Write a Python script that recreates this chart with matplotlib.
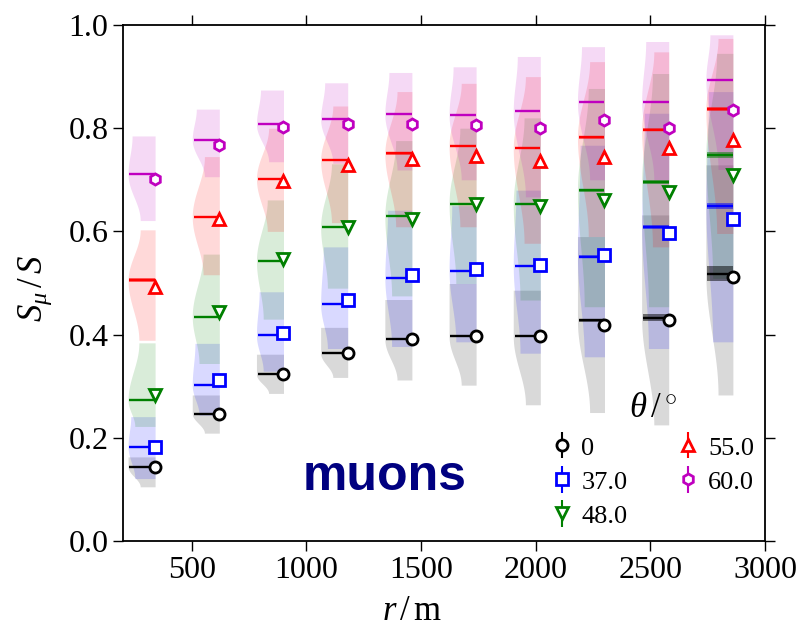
import numpy as np
import matplotlib
matplotlib.use("Agg")
import matplotlib.pyplot as plt

plt.rcParams['font.family'] = ['Liberation Serif', 'DejaVu Serif']
plt.rcParams['mathtext.fontset'] = 'custom'
plt.rcParams['mathtext.rm'] = 'Liberation Serif'
plt.rcParams['mathtext.it'] = 'Liberation Serif:italic'
plt.rcParams['mathtext.bf'] = 'Liberation Serif:bold'

# radial bins (m)
r = [340, 620, 900, 1180, 1460, 1740, 2020, 2300, 2580, 2860]
angles = ["0", "37.0", "48.0", "55.0", "60.0"]
colors = ['k', 'b', 'g', 'r', 'm']
markers = ['o', 's', 'v', '^', 'h']

# mean muon fraction per zenith angle (markers)
mean_0 = [0.144, 0.247, 0.323, 0.364, 0.391, 0.397, 0.397, 0.419, 0.428, 0.512]
mean_37 = [0.182, 0.312, 0.404, 0.467, 0.515, 0.528, 0.535, 0.554, 0.596, 0.625]
mean_48 = [0.282, 0.443, 0.546, 0.609, 0.625, 0.653, 0.649, 0.661, 0.676, 0.709]
mean_55 = [0.493, 0.624, 0.698, 0.729, 0.740, 0.746, 0.737, 0.744, 0.761, 0.777]
mean_60 = [0.701, 0.767, 0.802, 0.809, 0.809, 0.806, 0.801, 0.816, 0.801, 0.835]

# median muon fraction (horizontal lines)
med_0 = [0.144, 0.247, 0.323, 0.364, 0.391, 0.397, 0.397, 0.428, 0.433, 0.518]
med_37 = [0.183, 0.302, 0.399, 0.459, 0.510, 0.524, 0.533, 0.551, 0.609, 0.650]
med_48 = [0.273, 0.435, 0.543, 0.608, 0.629, 0.654, 0.653, 0.680, 0.696, 0.748]
med_55 = [0.505, 0.628, 0.702, 0.738, 0.751, 0.766, 0.761, 0.782, 0.797, 0.837]
med_60 = [0.711, 0.778, 0.808, 0.817, 0.827, 0.826, 0.833, 0.851, 0.851, 0.893]

# uncertainty on the median
med_err_0 = [0.002, 0.002, 0.002, 0.002, 0.002, 0.002, 0.002, 0.003, 0.006, 0.015]
med_err_37 = [0.002, 0.002, 0.002, 0.002, 0.002, 0.002, 0.002, 0.003, 0.004, 0.006]
med_err_48 = [0.002, 0.002, 0.002, 0.002, 0.002, 0.002, 0.002, 0.003, 0.004, 0.006]
med_err_55 = [0.004, 0.002, 0.002, 0.002, 0.002, 0.002, 0.002, 0.002, 0.003, 0.004]
med_err_60 = [0.002, 0.002, 0.002, 0.002, 0.002, 0.002, 0.002, 0.002, 0.002, 0.002]

# range of each distribution
lo_0 = [0.105, 0.209, 0.286, 0.317, 0.312, 0.302, 0.264, 0.249, 0.225, 0.283]
hi_0 = [0.163, 0.283, 0.362, 0.414, 0.468, 0.499, 0.486, 0.590, 0.632, 0.729]
lo_37 = [0.121, 0.244, 0.329, 0.373, 0.377, 0.386, 0.364, 0.357, 0.373, 0.386]
hi_37 = [0.241, 0.383, 0.483, 0.570, 0.641, 0.650, 0.680, 0.767, 0.829, 0.871]
lo_48 = [0.222, 0.344, 0.430, 0.490, 0.475, 0.499, 0.467, 0.454, 0.454, 0.509]
hi_48 = [0.384, 0.556, 0.661, 0.731, 0.776, 0.800, 0.820, 0.877, 0.906, 0.945]
lo_55 = [0.389, 0.516, 0.600, 0.617, 0.609, 0.609, 0.577, 0.590, 0.570, 0.596]
hi_55 = [0.603, 0.745, 0.800, 0.843, 0.871, 0.887, 0.900, 0.929, 0.948, 0.974]
lo_60 = [0.621, 0.706, 0.735, 0.732, 0.719, 0.700, 0.667, 0.700, 0.700, 0.720]
hi_60 = [0.785, 0.837, 0.874, 0.888, 0.908, 0.919, 0.939, 0.958, 0.968, 0.981]

# relative width of each distribution at its lower / upper end
taper_lo = [0.55, 0.75, 0.75, 0.6, 0.55]
taper_hi = [1.0, 0.9, 0.6, 0.55, 0.85]

means = [mean_0, mean_37, mean_48, mean_55, mean_60]
meds = [med_0, med_37, med_48, med_55, med_60]
med_errs = [med_err_0, med_err_37, med_err_48, med_err_55, med_err_60]
los = [lo_0, lo_37, lo_48, lo_55, lo_60]
his = [hi_0, hi_37, hi_48, hi_55, hi_60]

width = 118.0
line_len = 112.0


def smooth_profile(yy, ys, ws):
    # cosine blend between the profile nodes
    out = np.empty_like(yy)
    for j, y in enumerate(yy):
        n = np.searchsorted(ys, y, side='right') - 1
        n = min(max(n, 0), len(ys) - 2)
        t = (y - ys[n]) / (ys[n + 1] - ys[n]) if ys[n + 1] > ys[n] else 0.0
        t = min(max(t, 0.0), 1.0)
        out[j] = ws[n] + (ws[n + 1] - ws[n]) * (1 - np.cos(np.pi * t)) / 2
    return out


fig = plt.figure(figsize=(8.01, 6.34), dpi=100)
ax = fig.add_axes([123 / 801, 1 - 541 / 634, 642 / 801, 516 / 634])

for k in range(len(angles)):
    c = colors[k]
    for i, x in enumerate(r):
        lo, hi, md = los[k][i], his[k][i], meds[k][i]
        md = min(max(md, lo + 0.01), hi - 0.01)
        ys = [lo, md, hi]
        ws = [taper_lo[k], 1.0, taper_hi[k]]
        yy = np.linspace(lo, hi, 60)
        left = x - width * smooth_profile(yy, ys, ws)
        ax.fill_betweenx(yy, left, x, color=c, alpha=0.15, lw=0, zorder=1)

    for i, x in enumerate(r):
        e = med_errs[k][i]
        ax.fill_between([x - line_len, x], meds[k][i] - e, meds[k][i] + e,
                        color=c, alpha=0.5, lw=0, zorder=2)
    ax.hlines(meds[k], np.array(r) - line_len, r, colors=c, lw=1.7, zorder=3)
    ax.errorbar(r, means[k], yerr=0.004, fmt=markers[k], color=c, mec=c,
                mfc='white', mew=2, ms=8, elinewidth=1.5, capsize=0,
                label=angles[k], zorder=4)

ax.set_xlim(200, 3000)
ax.set_ylim(0, 1)
ax.set_xticks([500, 1000, 1500, 2000, 2500, 3000])
ax.set_yticks([0.0, 0.2, 0.4, 0.6, 0.8, 1.0])
ax.set_yticklabels(["0.0", "0.2", "0.4", "0.6", "0.8", "1.0"])
ax.tick_params(direction='out', top=True, right=True, length=7, width=1.0,
               labelsize=23)
for s in ax.spines.values():
    s.set_linewidth(1.3)

ax.set_xlabel(r"$r\,/\,\mathrm{m}$", fontsize=25)
ax.xaxis.set_label_coords(0.45, -0.105)
ax.set_ylabel(r"$S_{\mu}\,/\,S$", fontsize=25)
ax.yaxis.set_label_coords(-0.108, 0.49)

ax.text(0.408, 0.124, "muons", transform=ax.transAxes, ha='center',
        va='center', fontsize=36, fontweight='bold', color='#000080',
        family='Liberation Sans')

leg = ax.legend(loc='lower right', bbox_to_anchor=(1.02, -0.02), ncol=2,
                frameon=False, fontsize=19, title=r"$\theta\,/\,^{\circ}$",
                title_fontsize=25, handletextpad=0.35, columnspacing=1.9,
                handlelength=0.8, labelspacing=0.4)

fig.savefig("out.png", dpi=100)
